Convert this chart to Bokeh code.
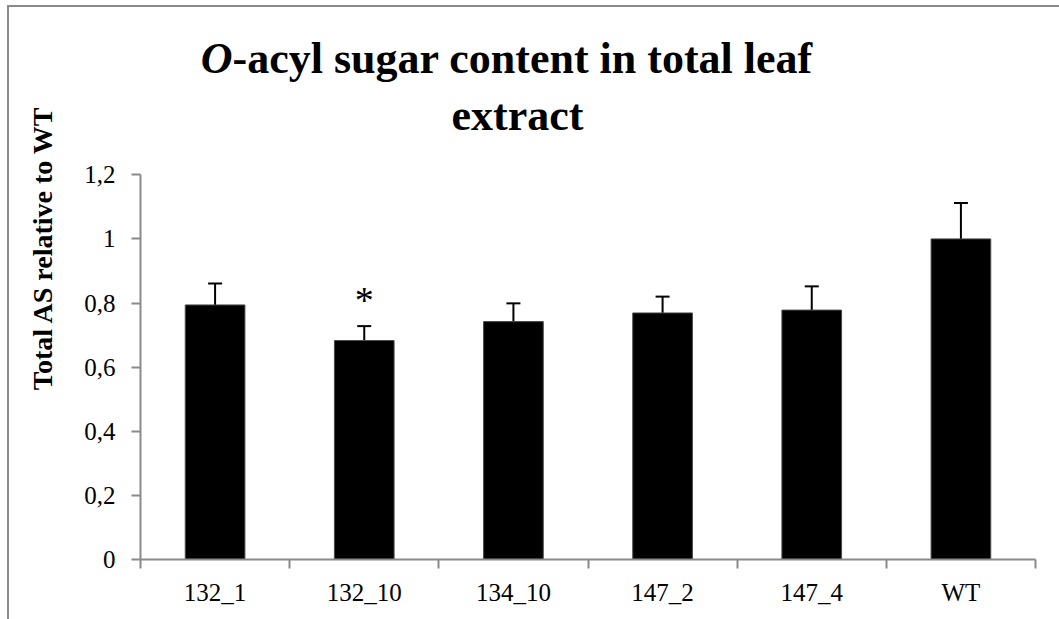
from bokeh.plotting import figure
from bokeh.models import (Range1d, FixedTicker, CustomJSTickFormatter, Whisker,
                          TeeHead, Title, ColumnDataSource)
from bokeh.core.properties import value
from bokeh.embed import file_html
from bokeh.resources import INLINE

# ---- data ----
categories = ["132_1", "132_10", "134_10", "147_2", "147_4", "WT"]
values = [0.794, 0.683, 0.742, 0.769, 0.778, 1.0]
errors = [0.067, 0.045, 0.057, 0.051, 0.074, 0.112]
significance = ["", "*", "", "", "", ""]
y_ticks = [0, 0.2, 0.4, 0.6, 0.8, 1.0, 1.2]
title_italic = "O"
title_line1 = "-acyl sugar content in total leaf"
title_line2 = "extract"
y_label = "Total AS relative to WT"

SERIF = "Liberation Serif"
GLYPH_SERIF = "'Liberation Serif', serif"
AXIS_GREY = "#8a8a8a"
Y_MAX = 1.2

xs = [i + 0.5 for i in range(len(categories))]
src = ColumnDataSource(dict(
    x=xs, top=values,
    upper=[v + e for v, e in zip(values, errors)],
    sig=significance,
    sig_y=[v + e + 0.08 for v, e in zip(values, errors)],
))

W, H = 1059, 619
# frame extends above the value axis so the title can be drawn inside it
p = figure(width=W, height=H, output_backend="svg", toolbar_location=None,
           x_range=Range1d(0, len(categories)), y_range=Range1d(0, 1.7),
           min_border_left=140, min_border_right=24, min_border_top=14,
           min_border_bottom=60, title=None)
# chart-area border (left and top edges) drawn as a CSS background behind
# the transparent outer canvas area
p.styles = {
    "background": ("linear-gradient(#8a8a8a, #8a8a8a) 7px 5px / 2px 100% no-repeat, "
                   "linear-gradient(#8a8a8a, #8a8a8a) 7px 5px / 100% 2px no-repeat, white"),
}
p.background_fill_color = "white"
p.border_fill_color = "white"
p.border_fill_alpha = 0
p.outline_line_color = None
p.xgrid.visible = False
p.ygrid.visible = False

p.vbar(x="x", top="top", width=0.4, bottom=0, source=src,
       fill_color="black", line_color="#4a4a4a", line_width=1)

p.add_layout(Whisker(base="x", lower="top", upper="upper", source=src,
                     line_color="black", line_width=2,
                     upper_head=TeeHead(size=14, line_color="black", line_width=2),
                     lower_head=None))

p.text(x="x", y="sig_y", text="sig", source=src, text_align="center",
       text_baseline="middle", text_font=value(GLYPH_SERIF), text_font_size="38px",
       text_color="black")

# x axis: labels at centres, ticks at boundaries
xa = p.xaxis[0]
xa.ticker = FixedTicker(ticks=xs, minor_ticks=list(range(len(categories) + 1)))
xa.formatter = CustomJSTickFormatter(args=dict(cats=categories),
                                     code="return cats[Math.floor(tick)];")
xa.major_tick_line_color = None
xa.major_tick_out = 0
xa.major_tick_in = 0
xa.minor_tick_out = 9
xa.minor_tick_in = 0
xa.minor_tick_line_color = AXIS_GREY
xa.minor_tick_line_width = 2
xa.axis_line_color = AXIS_GREY
xa.axis_line_width = 2
xa.major_label_text_font = SERIF
xa.major_label_text_font_size = "25px"
xa.major_label_text_color = "black"
xa.major_label_standoff = 10

ya = p.yaxis[0]
ya.bounds = (0, Y_MAX)
ya.ticker = FixedTicker(ticks=y_ticks, minor_ticks=[])
ya.formatter = CustomJSTickFormatter(
    code="var s = (Math.round(tick*10)/10).toString(); return s.replace('.', ',');")
ya.major_tick_out = 9
ya.major_tick_in = 0
ya.major_tick_line_color = AXIS_GREY
ya.major_tick_line_width = 2
ya.minor_tick_line_color = None
ya.axis_line_color = AXIS_GREY
ya.axis_line_width = 2
ya.major_label_text_font = SERIF
ya.major_label_text_font_size = "25px"
ya.major_label_text_color = "black"
ya.major_label_standoff = 16

# title, drawn as text inside the (extended) frame
p.text(x=[0.617], y=[1.563], text=[title_italic], text_align="right",
       text_baseline="alphabetic", text_font=value(GLYPH_SERIF),
       text_font_style="bold italic", text_font_size="44px", text_color="black")
p.text(x=[0.617], y=[1.563], text=[title_line1], text_align="left",
       text_baseline="alphabetic", text_font=value(GLYPH_SERIF),
       text_font_style="bold", text_font_size="44px", text_color="black")
p.text(x=[2.527], y=[1.385], text=[title_line2], text_align="center",
       text_baseline="alphabetic", text_font=value(GLYPH_SERIF),
       text_font_style="bold", text_font_size="44px", text_color="black")

# y axis title
p.add_layout(Title(text=y_label, align="right", offset=91, standoff=47,
                   text_font=SERIF, text_font_style="bold",
                   text_font_size="28px", text_color="black"), "left")

open("out.html", "w").write(file_html(p, INLINE))
